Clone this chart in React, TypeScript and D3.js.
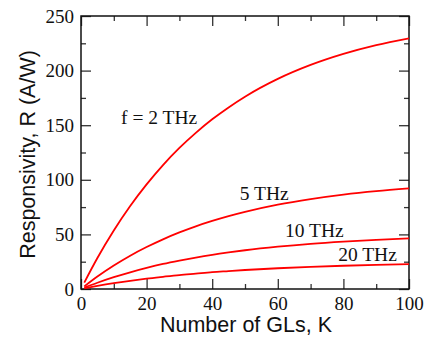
import React, { useRef, useEffect } from "react";
import * as d3 from "d3";

// data
const kValues = [1, 5, 10, 15, 20, 25, 30, 35, 40, 45, 50, 60, 70, 80, 90, 100];
const r2THz = [5.9, 28.4, 53.6, 76.0, 95.8, 113.5, 129.2, 143.0, 155.4, 166.3, 176.1, 192.4, 205.2, 215.3, 223.3, 229.6];
const r5THz = [2.4, 11.4, 21.5, 30.5, 38.4, 45.5, 51.8, 57.4, 62.3, 66.7, 70.6, 77.2, 82.3, 86.4, 89.6, 92.1];
const r10THz = [1.2, 5.7, 10.8, 15.3, 19.3, 22.9, 26.0, 28.8, 31.3, 33.5, 35.5, 38.8, 41.4, 43.4, 45.0, 46.3];
const r20THz = [0.6, 2.8, 5.3, 7.5, 9.5, 11.2, 12.8, 14.1, 15.4, 16.4, 17.4, 19.0, 20.3, 21.3, 22.1, 22.7];
const seriesLabels = ["f = 2 THz", "5 THz", "10 THz", "20 THz"];
const xMajorTicks = [0, 20, 40, 60, 80, 100];
const xMinorTicks = [10, 30, 50, 70, 90];
const yMajorTicks = [0, 50, 100, 150, 200, 250];
const yMinorTicks = [25, 75, 125, 175, 225];

export default function App() {
  const chartRef = useRef<SVGSVGElement | null>(null);

  useEffect(() => {
    const width = 429;
    const height = 337;
    const margin = { top: 16, right: 20, bottom: 48, left: 81 };
    const w = width - margin.left - margin.right;
    const h = height - margin.top - margin.bottom;

    const svg = d3.select(chartRef.current);
    svg.selectAll("*").remove();

    const g = svg
      .append("g")
      .attr("transform", `translate(${margin.left}, ${margin.top})`);

    const x = d3.scaleLinear().domain([0, 100]).range([0, w]);
    const y = d3.scaleLinear().domain([0, 250]).range([h, 0]);

    const serif = "'Liberation Serif', 'Times New Roman', serif";
    const sans = "'Liberation Sans', Arial, sans-serif";

    // major ticks (inward) with labels
    const bottom = g
      .append("g")
      .attr("transform", `translate(0, ${h})`)
      .call(d3.axisBottom(x).tickValues(xMajorTicks).tickSize(-10).tickPadding(7.5));
    const left = g
      .append("g")
      .call(d3.axisLeft(y).tickValues(yMajorTicks).tickSize(-10).tickPadding(7));
    const top = g
      .append("g")
      .call(d3.axisTop(x).tickValues(xMajorTicks).tickSize(-10).tickFormat(() => ""));
    const right = g
      .append("g")
      .attr("transform", `translate(${w}, 0)`)
      .call(d3.axisRight(y).tickValues(yMajorTicks).tickSize(-10).tickFormat(() => ""));

    // minor ticks
    const minors = [
      g.append("g").attr("transform", `translate(0, ${h})`)
        .call(d3.axisBottom(x).tickValues(xMinorTicks).tickSize(-5).tickFormat(() => "")),
      g.append("g")
        .call(d3.axisTop(x).tickValues(xMinorTicks).tickSize(-5).tickFormat(() => "")),
      g.append("g")
        .call(d3.axisLeft(y).tickValues(yMinorTicks).tickSize(-5).tickFormat(() => "")),
      g.append("g").attr("transform", `translate(${w}, 0)`)
        .call(d3.axisRight(y).tickValues(yMinorTicks).tickSize(-5).tickFormat(() => "")),
    ];

    [bottom, left, top, right, ...minors].forEach((a) => {
      a.select(".domain").remove();
      a.selectAll("line").attr("stroke", "#333").attr("stroke-width", 1.3);
    });
    [bottom, left].forEach((a) => {
      a.selectAll("text")
        .attr("fill", "#111")
        .style("font-family", serif)
        .style("font-size", "19px");
    });

    // frame
    g.append("rect")
      .attr("x", 0)
      .attr("y", 0)
      .attr("width", w)
      .attr("height", h)
      .attr("fill", "none")
      .attr("stroke", "#111")
      .attr("stroke-width", 1.5);

    // curves
    const line = d3
      .line<number>()
      .x((d, i) => x(kValues[i]))
      .y((d) => y(d))
      .curve(d3.curveMonotoneX);

    [r2THz, r5THz, r10THz, r20THz].forEach((s) => {
      g.append("path")
        .datum(s)
        .attr("d", line)
        .attr("fill", "none")
        .attr("stroke", "#ff0000")
        .attr("stroke-width", 1.8);
    });

    // series labels
    const labelPos = [
      { k: 12.2, r: 151 },
      { k: 48.4, r: 81.5 },
      { k: 62.2, r: 48 },
      { k: 78.4, r: 26 },
    ];
    seriesLabels.forEach((t, i) => {
      g.append("text")
        .attr("x", x(labelPos[i].k))
        .attr("y", y(labelPos[i].r))
        .attr("fill", "#111")
        .style("font-family", serif)
        .style("font-size", "19.5px")
        .text(t);
    });

    // axis titles
    svg
      .append("text")
      .attr("x", 246)
      .attr("y", 332)
      .attr("text-anchor", "middle")
      .attr("fill", "#111")
      .style("font-family", sans)
      .style("font-size", "21.5px")
      .text("Number of GLs, K");

    svg
      .append("text")
      .attr("transform", "translate(35, 154.5) rotate(-90)")
      .attr("text-anchor", "middle")
      .attr("fill", "#111")
      .style("font-family", sans)
      .style("font-size", "21.5px")
      .text("Responsivity, R (A/W)");
  }, []);

  return (
    <svg
      ref={chartRef}
      width={429}
      height={337}
      style={{ position: "absolute", left: 0, top: 0, background: "#fff" }}
    />
  );
}
